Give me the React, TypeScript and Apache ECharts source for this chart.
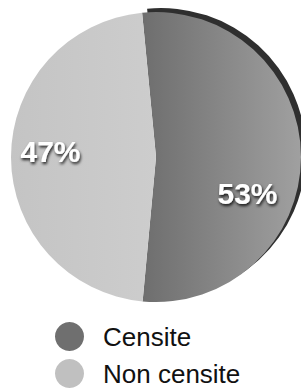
import React, { useEffect, useRef } from "react";
import * as echarts from "echarts";

const categories = ["Censite", "Non censite"];
const values = [53, 47];
const labels = ["53%", "47%"];
const legendColors = ["#6f6f6f", "#c0c0c0"];

export default function App() {
  const ref = useRef<HTMLDivElement>(null);
  useEffect(() => {
    document.body.style.margin = "0";
    const chart = echarts.init(ref.current!, null, { renderer: "svg" });
    const font = "Liberation Sans, Arial, sans-serif";
    const labelStyle = {
      show: true,
      position: "inside",
      color: "#ffffff",
      fontFamily: font,
      fontSize: 30,
      fontWeight: "bold",
      textShadowColor: "rgba(0,0,0,0.85)",
      textShadowBlur: 3,
      textShadowOffsetX: 1,
      textShadowOffsetY: 2,
      formatter: (p: any) => labels[p.dataIndex],
    };
    chart.setOption({
      animation: false,
      legend: {
        data: categories.map((c, i) => ({
          name: c,
          itemStyle: { color: legendColors[i] },
        })),
        orient: "vertical",
        left: 55,
        top: 322,
        padding: 0,
        icon: "circle",
        itemWidth: 29,
        itemHeight: 29,
        itemGap: 8,
        selectedMode: false,
        textStyle: {
          fontFamily: font,
          fontSize: 26,
          color: "#111111",
          padding: [0, 0, 0, 14],
        },
      },
      series: [
        {
          type: "pie",
          silent: true,
          center: [161, 153],
          radius: 145,
          startAngle: 95.5,
          clockwise: true,
          label: { show: false },
          labelLine: { show: false },
          legendHoverLink: false,
          data: values.map((v, i) => ({
            value: v,
            name: "rim" + i,
            itemStyle: { color: i === 0 ? "#2f2f2f" : "rgba(0,0,0,0)" },
          })),
        },
        {
          type: "pie",
          center: [156, 157],
          radius: 145,
          startAngle: 95.5,
          clockwise: true,
          labelLine: { show: false },
          label: labelStyle,
          data: values.map((v, i) => ({
            value: v,
            name: categories[i],
            label: { offset: i === 0 ? [16, 37] : [-30, -6] },
            itemStyle:
              i === 0
                ? {
                    color: new echarts.graphic.LinearGradient(0, 0, 1, 0, [
                      { offset: 0, color: "#6e6e6e" },
                      { offset: 1, color: "#a0a0a0" },
                    ]),
                  }
                : {
                    color: new echarts.graphic.LinearGradient(0, 0, 1, 0, [
                      { offset: 0, color: "#c4c4c4" },
                      { offset: 1, color: "#cdcdcd" },
                    ]),
                  },
          })),
        },
      ],
    });
    return () => chart.dispose();
  }, []);
  return (
    <div
      ref={ref}
      style={{ position: "absolute", left: 0, top: 0, width: 301, height: 388 }}
    />
  );
}
